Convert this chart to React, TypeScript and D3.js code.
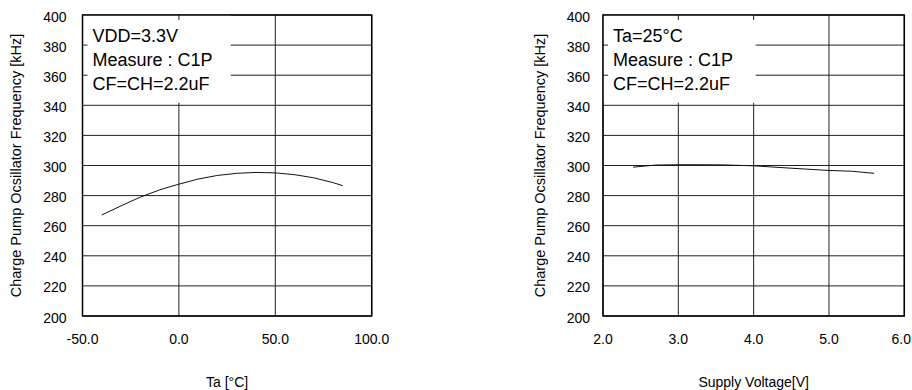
import React from "react";
import * as d3 from "d3";

const tempX = [-40, -30, -20, -10, 0, 10, 20, 30, 40, 50, 60, 70, 80, 85];
const tempFreq = [267.1, 273.2, 279, 283.8, 287.6, 291, 293.4, 294.8, 295.4, 295.1, 293.9, 291.8, 288.6, 286.6];

const voltX = [2.4, 2.7, 3.0, 3.3, 3.6, 4.0, 4.5, 5.0, 5.3, 5.6];
const voltFreq = [298.9, 300.3, 300.5, 300.5, 300.4, 299.8, 298.2, 296.7, 296.2, 294.8];

const yTicks = [200, 220, 240, 260, 280, 300, 320, 340, 360, 380, 400];
const tempTicks = [-50, 0, 50, 100];
const voltTicks = [2, 3, 4, 5, 6];

const leftNotes = ["VDD=3.3V", "Measure : C1P", "CF=CH=2.2uF"];
const rightNotes = ["Ta=25°C", "Measure : C1P", "CF=CH=2.2uF"];

const yTitle = "Charge Pump Ocsillator Frequency [kHz]";
const FONT = "'Liberation Sans', Arial, sans-serif";

type PanelProps = {
  x0: number; x1: number; xDomain: [number, number]; xTicks: number[];
  xs: number[]; ys: number[]; notes: string[]; xTitle: string;
  labelGap: number; yTitleX: number; boxRight: number;
};

function Panel(p: PanelProps) {
  const top = 15, bottom = 316;
  const x = d3.scaleLinear().domain(p.xDomain).range([p.x0, p.x1]);
  const y = d3.scaleLinear().domain([200, 400]).range([bottom, top]);
  const line = d3.line<number>().x((_, i) => x(p.xs[i])).y((d) => y(d));
  const boxBottom = 102.7;
  return (
    <g fontFamily={FONT} fill="#000">
      {yTicks.map((t) => (
        <line key={"h" + t} x1={p.x0} x2={p.x1} y1={y(t)} y2={y(t)} stroke="#222" strokeWidth={1} />
      ))}
      {p.xTicks.map((t) => (
        <line key={"v" + t} x1={x(t)} x2={x(t)} y1={top} y2={bottom} stroke="#222" strokeWidth={1} />
      ))}
      <rect x={p.x0} y={top} width={p.boxRight - p.x0} height={boxBottom - top} fill="#fff" />
      {p.xTicks.filter((t) => x(t) > p.x0 + 1 && x(t) < p.boxRight).map((t) => (
        <line key={"tt" + t} x1={x(t)} x2={x(t)} y1={top} y2={top + 5} stroke="#222" />
      ))}
      {yTicks.filter((t) => y(t) > top + 1 && y(t) < boxBottom).map((t) => (
        <line key={"lt" + t} x1={p.x0} x2={p.x0 + 5} y1={y(t)} y2={y(t)} stroke="#222" />
      ))}
      <rect x={p.x0} y={top} width={p.x1 - p.x0} height={bottom - top} fill="none" stroke="#000" strokeWidth={1.5} />
      <path d={line(p.ys) || ""} fill="none" stroke="#111" strokeWidth={1} />
      {p.notes.map((n, i) => (
        <text key={n} x={p.x0 + 10} y={41.7 + i * 24} fontSize={18}>{n}</text>
      ))}
      {yTicks.map((t) => (
        <text key={"yl" + t} x={p.x0 - p.labelGap} y={y(t) + 6.5} fontSize={14} textAnchor="end">{t}</text>
      ))}
      {p.xTicks.map((t) => {
        const px = x(t);
        const over = px + 12 > 911;
        return (
          <text key={"xl" + t} x={over ? 911 : px} y={344} fontSize={14} textAnchor={over ? "end" : "middle"}>{t.toFixed(1)}</text>
        );
      })}
      <text x={(p.x0 + p.x1) / 2} y={386.5} fontSize={14} textAnchor="middle">{p.xTitle}</text>
      <text transform={`translate(${p.yTitleX},${(top + bottom) / 2}) rotate(-90)`} fontSize={14.5} textAnchor="middle">{yTitle}</text>
    </g>
  );
}

export default function App() {
  return (
    <svg width={912} height={390} style={{ position: "absolute", left: 0, top: 0, background: "#fff" }}>
      <rect width={912} height={390} fill="#fff" />
      <Panel x0={82.5} x1={371.7} xDomain={[-50, 100]} xTicks={tempTicks} xs={tempX} ys={tempFreq}
        notes={leftNotes} xTitle="Ta [°C]" labelGap={16} yTitleX={20.5} boxRight={230.7} />
      <Panel x0={603} x1={904.3} xDomain={[2, 6]} xTicks={voltTicks} xs={voltX} ys={voltFreq}
        notes={rightNotes} xTitle="Supply Voltage[V]" labelGap={13} yTitleX={545} boxRight={755.7} />
    </svg>
  );
}
